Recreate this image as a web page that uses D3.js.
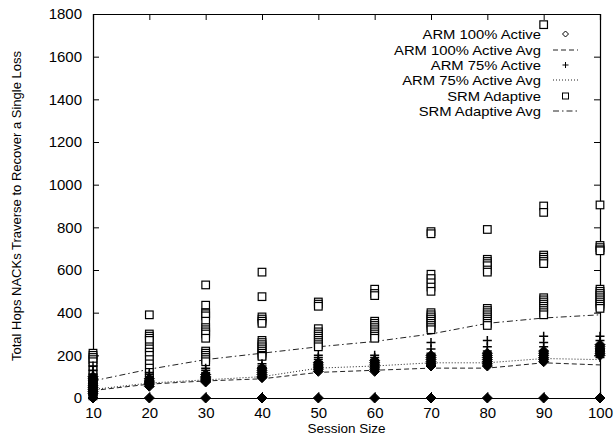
<!DOCTYPE html>
<html><head><meta charset="utf-8">
<script src="https://cdn.jsdelivr.net/npm/d3@7"></script>
<style>
body{margin:0;background:#fff;}
svg{display:block;font-family:"Liberation Sans",Arial,Helvetica,sans-serif;}
</style></head>
<body>
<svg id="chart" width="616" height="438"></svg>
<script>
const sessionSizes = [10,20,30,40,50,60,70,80,90,100];
const xTicks = [10,20,30,40,50,60,70,80,90,100];
const yTicks = [0,200,400,600,800,1000,1200,1400,1600,1800];

const arm100Active = [
  [0,20,30,40,50,60,70,80,90,100],
  [0,55,65,70,75,80,90],
  [0,75,80,85,90,95,100,110],
  [0,95,100,110,120,130,140],
  [0,125,135,145,155,165],
  [0,125,135,145,155,165,175],
  [0,150,160,170,180,190,200],
  [0,150,160,170,180,190,200,210],
  [0,170,180,190,200,210,220],
  [0,200,210,220,230,240,250]
];
const arm100Avg = [35,65,80,90,120,130,140,140,165,155];

const arm75Active = [
  [10,30,50,70,90,110,130,150],
  [60,70,80,90,100,110,120],
  [80,90,100,110,120,130,140],
  [100,110,120,130,140,150,160],
  [140,150,160,170,180,190,200],
  [140,150,160,170,180,190,200],
  [160,170,180,190,200,210,230,260],
  [160,170,180,190,200,220,240,270],
  [180,190,200,210,220,240,260,290],
  [190,200,210,220,230,250,270,290]
];
const arm75Avg = [40,70,85,100,140,150,165,165,185,180];

const srmAdaptive = [
  [210,200,190,180,170,150,130,110,95,80,65,50,40,30,20,10],
  [390,300,290,280,270,240,230,215,200,180,160,140,120,100,80,70],
  [530,435,400,395,385,360,330,320,310,300,280,220,210,200,190,180,170],
  [590,475,380,370,360,350,270,260,250,240,230,220,210,200,195],
  [450,440,430,325,310,300,290,280,270,260,250,240],
  [510,490,480,360,350,340,330,320,310,300,290,280],
  [780,770,580,560,540,520,500,400,390,380,370,360,350,340,330,320],
  [790,650,640,630,620,600,590,420,410,400,390,380,370,360,350,340],
  [1750,900,870,670,660,650,640,630,470,460,450,440,430,420,410,400,390],
  [905,715,705,695,690,510,500,490,480,470,460,450,440,430,420]
];
const srmAvg = [80,135,180,210,240,265,300,350,375,390];

const legendLabels = ["ARM 100% Active","ARM 100% Active Avg","ARM 75% Active","ARM 75% Active Avg","SRM Adaptive","SRM Adaptive Avg"];

const svg = d3.select("#chart");
const L = 93, R = 600, T = 14, B = 398;
const x = d3.scaleLinear().domain([10,100]).range([L,R]);
const y = d3.scaleLinear().domain([0,1800]).range([B,T]);
const tickLen = 6;

// axes (gnuplot style, inward ticks, mirrored)
const gB = svg.append("g").attr("transform",`translate(0,${B})`)
  .call(d3.axisBottom(x).tickValues(xTicks).tickSize(-tickLen).tickPadding(tickLen+3).tickFormat(d3.format("d")));
const gT = svg.append("g").attr("transform",`translate(0,${T})`)
  .call(d3.axisTop(x).tickValues(xTicks).tickSize(-tickLen).tickFormat(""));
const gL = svg.append("g").attr("transform",`translate(${L},0)`)
  .call(d3.axisLeft(y).tickValues(yTicks).tickSize(-tickLen).tickPadding(tickLen+5).tickFormat(d3.format("d")));
const gR = svg.append("g").attr("transform",`translate(${R},0)`)
  .call(d3.axisRight(y).tickValues(yTicks).tickSize(-tickLen).tickFormat(""));
[gB,gT,gL,gR].forEach(g=>{
  g.select(".domain").attr("stroke","#000").attr("stroke-width",1.2);
  g.selectAll(".tick line").attr("stroke","#000");
  g.selectAll("text").attr("font-family","Liberation Sans, Arial, sans-serif").attr("font-size",15).attr("fill","#000");
});

// axis titles
svg.append("text").attr("x",(L+R)/2).attr("y",433).attr("text-anchor","middle")
  .attr("font-size",13.5).text("Session Size");
svg.append("text").attr("transform",`translate(21,${(T+B)/2}) rotate(-90)`).attr("text-anchor","middle")
  .attr("font-size",13).text("Total Hops NACKs Traverse to Recover a Single Loss");

// line styles
const line = d3.line().x((d,i)=>x(sessionSizes[i])).y(d=>y(d));
const avgStyles = [
  {data: arm100Avg, dash:"5,3", color:"#222"},
  {data: arm75Avg, dash:"1,2", color:"#222"},
  {data: srmAvg, dash:"6,3,1.5,3", color:"#222"}
];
avgStyles.forEach(s=>{
  svg.append("path").attr("d",line(s.data)).attr("fill","none")
    .attr("stroke",s.color).attr("stroke-width",1).attr("stroke-dasharray",s.dash);
});

// markers
function flat(arr){ const out=[]; arr.forEach((vals,i)=>vals.forEach(v=>out.push({x:sessionSizes[i],v}))); return out; }
const sq = 3.8;
svg.append("g").selectAll("rect").data(flat(srmAdaptive)).join("rect")
  .attr("x",d=>x(d.x)-sq).attr("y",d=>y(d.v)-sq).attr("width",2*sq).attr("height",2*sq)
  .attr("fill","#fff").attr("stroke","#000").attr("stroke-width",1.2);
svg.append("g").selectAll("path").data(flat(arm75Active)).join("path")
  .attr("d",d=>`M${x(d.x)-4.5},${y(d.v)}h9M${x(d.x)},${y(d.v)-4.5}v9`)
  .attr("stroke","#000").attr("stroke-width",1.5);
svg.append("g").selectAll("path").data(flat(arm100Active)).join("path")
  .attr("d",d=>{const cx=x(d.x),cy=y(d.v);return `M${cx},${cy-5}L${cx+5},${cy}L${cx},${cy+5}L${cx-5},${cy}Z`;})
  .attr("fill","#000").attr("stroke","#000").attr("stroke-width",1);

// legend (text horizontally stretched to match the wide reference glyphs)
const legX = 541, sx0 = 553, sx1 = 578, rowY = [34,50,65,80,96,111];
legendLabels.forEach((lab,i)=>{
  svg.append("g").attr("transform",`translate(${legX},${rowY[i]+4.5}) scale(1.14,1)`)
    .append("text").attr("x",0).attr("y",0).attr("text-anchor","end")
    .attr("font-size",13).text(lab);
});
const cx = (sx0+sx1)/2;
svg.append("path").attr("d",`M${cx},${rowY[0]-3}L${cx+3},${rowY[0]}L${cx},${rowY[0]+3}L${cx-3},${rowY[0]}Z`)
  .attr("fill","#fff").attr("stroke","#000").attr("stroke-width",1);
svg.append("path").attr("d",`M${cx-3},${rowY[2]}h6M${cx},${rowY[2]-3}v6`).attr("stroke","#000").attr("stroke-width",1);
svg.append("rect").attr("x",cx-3).attr("y",rowY[4]-3).attr("width",6).attr("height",6)
  .attr("fill","#fff").attr("stroke","#000").attr("stroke-width",1);
[[1,"5,3"],[3,"1,2"],[5,"6,3,1.5,3"]].forEach(([r,dash])=>{
  svg.append("line").attr("x1",sx0).attr("x2",sx1).attr("y1",rowY[r]).attr("y2",rowY[r])
    .attr("stroke","#222").attr("stroke-width",1).attr("stroke-dasharray",dash);
});
</script>
</body></html>
